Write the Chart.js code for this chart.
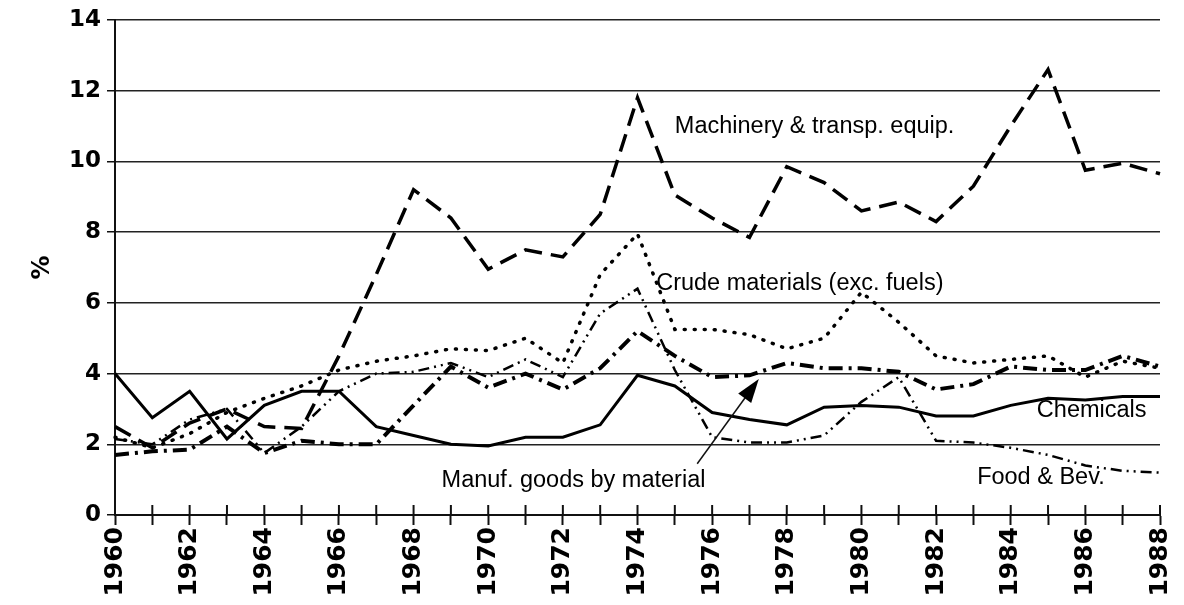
<!DOCTYPE html>
<html lang="en">
<head>
<meta charset="UTF-8">
<title>Exports by commodity group, 1960-1988</title>
<script src="https://cdn.jsdelivr.net/npm/chart.js"></script>
<style>
    body { margin: 0; background: #fff; }
    #chart { display: block; }
</style>
</head>
<body>
<canvas id="chart" width="1184" height="605"></canvas>
<script>
const years = [1960, 1961, 1962, 1963, 1964, 1965, 1966, 1967, 1968, 1969,
               1970, 1971, 1972, 1973, 1974, 1975, 1976, 1977, 1978, 1979,
               1980, 1981, 1982, 1983, 1984, 1985, 1986, 1987, 1988];

const machinery = [2.5, 1.9, 2.6, 3.0, 2.5, 2.45, 4.5, 6.8, 9.2, 8.4,
                   6.95, 7.5, 7.3, 8.5, 11.8, 9.05, 8.4, 7.85, 9.85, 9.4,
                   8.6, 8.85, 8.3, 9.3, 11.0, 12.6, 9.75, 9.95, 9.65];
const crude = [2.2, 1.9, 2.3, 2.9, 3.3, 3.65, 4.1, 4.35, 4.5, 4.7,
               4.65, 5.0, 4.3, 6.8, 7.95, 5.25, 5.25, 5.1, 4.7, 5.0,
               6.3, 5.45, 4.5, 4.3, 4.4, 4.5, 3.9, 4.35, 4.15];
const manuf = [1.7, 1.8, 1.85, 2.5, 1.75, 2.1, 2.0, 2.0, 3.1, 4.2,
               3.6, 4.0, 3.55, 4.15, 5.2, 4.5, 3.9, 3.95, 4.3, 4.15,
               4.15, 4.05, 3.55, 3.7, 4.2, 4.1, 4.1, 4.5, 4.2];
const chemicals = [4.0, 2.75, 3.5, 2.15, 3.1, 3.5, 3.5, 2.5, 2.25, 2.0,
                   1.95, 2.2, 2.2, 2.55, 3.95, 3.65, 2.9, 2.7, 2.55, 3.05,
                   3.1, 3.05, 2.8, 2.8, 3.1, 3.3, 3.25, 3.35, 3.35];
const foodBev = [2.15, 2.0, 2.7, 3.0, 1.75, 2.5, 3.5, 4.0, 4.05, 4.3,
                 3.9, 4.4, 3.9, 5.7, 6.4, 4.1, 2.2, 2.05, 2.05, 2.25,
                 3.2, 3.9, 2.1, 2.05, 1.9, 1.7, 1.4, 1.25, 1.2];

const yMin = 0, yMax = 14, yStep = 2;

// text put straight on the plot, placed in data units (year, %)
const notes = [
    { text: 'Machinery & transp. equip.', year: 1975.0, value: 11.0 },
    { text: 'Crude materials (exc. fuels)', year: 1974.5, value: 6.55 },
    { text: 'Manuf. goods by material', year: 1968.75, value: 0.98 },
    { text: 'Chemicals', year: 1984.7, value: 2.95 },
    { text: 'Food & Bev.', year: 1983.1, value: 1.05 }
];
const arrow = { from: [1975.6, 1.45], to: [1977.25, 3.85] };

const font = '"Liberation Sans", Arial, sans-serif';

const overlay = {
    id: 'overlay',
    afterDraw(chart) {
        const { ctx, scales: { x, y } } = chart;
        const px = yr => x.getPixelForValue(yr - years[0]);
        ctx.save();

        // x ticks cross the axis, so draw the inner half too
        ctx.strokeStyle = '#111';
        ctx.lineWidth = 2;
        years.forEach((yr, i) => {
            const xp = x.getPixelForValue(i);
            ctx.beginPath();
            ctx.moveTo(xp, y.bottom - 10);
            ctx.lineTo(xp, y.bottom);
            ctx.stroke();
        });

        ctx.fillStyle = '#000';
        ctx.font = '23.5px ' + font;
        ctx.textBaseline = 'middle';
        ctx.textAlign = 'left';
        notes.forEach(n => ctx.fillText(n.text, px(n.year), y.getPixelForValue(n.value)));

        // arrow to the manufactured goods line
        const x0 = px(arrow.from[0]), y0 = y.getPixelForValue(arrow.from[1]);
        const x1 = px(arrow.to[0]), y1 = y.getPixelForValue(arrow.to[1]);
        const ang = Math.atan2(y1 - y0, x1 - x0);
        ctx.lineWidth = 1.5;
        ctx.beginPath();
        ctx.moveTo(x0, y0);
        ctx.lineTo(x1 - 18 * Math.cos(ang), y1 - 18 * Math.sin(ang));
        ctx.stroke();
        ctx.beginPath();
        ctx.moveTo(x1, y1);
        ctx.lineTo(x1 - 24 * Math.cos(ang) + 8 * Math.sin(ang), y1 - 24 * Math.sin(ang) - 8 * Math.cos(ang));
        ctx.lineTo(x1 - 24 * Math.cos(ang) - 8 * Math.sin(ang), y1 - 24 * Math.sin(ang) + 8 * Math.cos(ang));
        ctx.closePath();
        ctx.fill();

        ctx.restore();
    }
};

function series(label, data, width, dash, cap) {
    return {
        label: label,
        data: data,
        borderColor: '#000',
        backgroundColor: '#000',
        borderWidth: width,
        borderDash: dash,
        borderCapStyle: cap || 'butt',
        pointRadius: 0,
        tension: 0,
        fill: false
    };
}

new Chart(document.getElementById('chart'), {
    type: 'line',
    data: {
        labels: years,
        datasets: [
            series('Machinery & transp. equip.', machinery, 3.5, [18, 9]),
            series('Crude materials (exc. fuels)', crude, 3.5, [1, 9], 'round'),
            series('Manuf. goods by material', manuf, 4, [14, 6, 3, 6]),
            series('Chemicals', chemicals, 3, []),
            series('Food & Bev.', foodBev, 2.5, [11, 5, 2, 5, 2, 5])
        ]
    },
    options: {
        responsive: false,
        animation: false,
        layout: { padding: { left: 28, right: 24, top: 20, bottom: 0 } },
        plugins: {
            legend: { display: false },
            tooltip: { enabled: false }
        },
        scales: {
            x: {
                offset: false,
                afterFit: s => {
                    s.height = 90;
                    s.paddingLeft = 0;
                    s.paddingRight = 0;
                },
                grid: {
                    drawOnChartArea: false,
                    tickLength: 10,
                    tickWidth: 2,
                    tickColor: '#111'
                },
                border: { color: '#111', width: 2 },
                ticks: {
                    autoSkip: false,
                    minRotation: 90,
                    maxRotation: 90,
                    padding: 2,
                    color: '#000',
                    font: { family: 'DejaVu Sans', size: 25, weight: 'bold' },
                    callback: function(v, i) {
                        return years[i] % 2 === 0 ? String(years[i]) : '';
                    }
                }
            },
            y: {
                min: yMin,
                max: yMax,
                afterFit: s => { s.width = 115 - 28; },
                grid: {
                    color: '#222',
                    lineWidth: 1.5,
                    tickLength: 8,
                    tickColor: '#111'
                },
                border: { color: '#111', width: 2 },
                ticks: {
                    stepSize: yStep,
                    padding: 6,
                    color: '#000',
                    font: { family: 'DejaVu Sans', size: 23, weight: 'bold' }
                },
                title: {
                    display: true,
                    text: '%',
                    color: '#000',
                    padding: 0,
                    font: { family: 'DejaVu Sans', size: 24, weight: 'bold' }
                }
            }
        }
    },
    plugins: [overlay]
});
</script>
</body>
</html>
